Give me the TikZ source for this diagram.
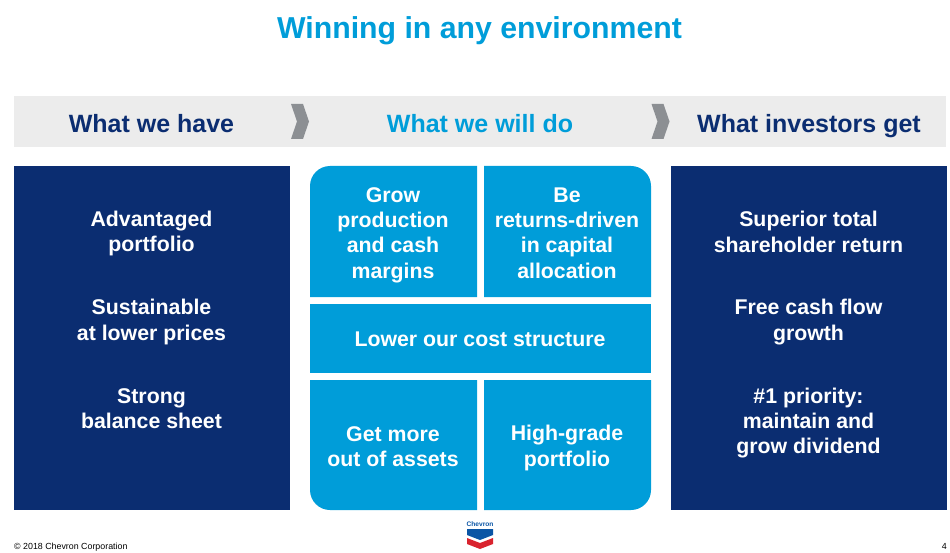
\documentclass[tikz,border=0pt]{standalone}
\usepackage{fontspec}
\setmainfont{Liberation Sans}
\definecolor{navy}{HTML}{0B2D71}
\definecolor{cyan}{HTML}{009DD9}
\definecolor{barg}{HTML}{ECECEC}
\definecolor{chev}{HTML}{8C8F93}
\definecolor{logoblue}{HTML}{0A55A5}
\definecolor{logored}{HTML}{D9232E}
\newcommand{\fs}[2]{\fontsize{#1}{#2}\selectfont\bfseries}
\tikzset{
 tile/.style={fill=cyan,draw=none},
 ttext/.style={text=white,align=center,font=\fs{21.3}{25.4}},
 head/.style={font=\fs{25}{25},anchor=base},
 chevmark/.style={fill=chev,draw=none},
}
\begin{document}
\begin{tikzpicture}[x=1pt,y=-1pt]
\useasboundingbox (0,0) rectangle (950,553);
\node[font=\fs{30.25}{30},text=cyan,anchor=base] (title) at (479.5,38.5) {Winning in any environment};
\fill[barg] (14,96) rectangle (946,147);
\fill[chevmark] (291,104) -- (303,104) -- (309,121.5) -- (303,139) -- (291,139) -- (297,121.5) -- cycle;
\fill[chevmark] (651.5,104) -- (663.5,104) -- (669.5,121.5) -- (663.5,139) -- (651.5,139) -- (657.5,121.5) -- cycle;
\node[head,text=navy] (h1) at (151.5,133) {What we have};
\node[head,text=cyan] (h2) at (480,133) {What we will do};
\node[head,text=navy] (h3) at (809,133) {What investors get};
\fill[navy] (14,166) rectangle (290,510);
\fill[navy] (671,166) rectangle (947,510);
\fill[tile] (310,297) [rounded corners=20pt] -- (310,166) [sharp corners] -- (477,166) -- (477,297) -- cycle;
\fill[tile] (484,297) -- (484,166) [rounded corners=20pt] -- (651,166) [sharp corners] -- (651,297) -- cycle;
\fill[tile] (310,304) rectangle (651,373);
\fill[tile] (477,380) -- (477,510) [rounded corners=20pt] -- (310,510) [sharp corners] -- (310,380) -- cycle;
\fill[tile] (484,380) -- (651,380) [rounded corners=20pt] -- (651,510) [sharp corners] -- (484,510) -- cycle;
\node[ttext] (l1) at (151.5,233.5) {Advantaged\\portfolio};
\node[ttext] (l2) at (151.5,322) {Sustainable\\at lower prices};
\node[ttext] (l3) at (151.5,408.5) {Strong\\balance sheet};
\node[ttext] (m1) at (393,235) {Grow\\production\\and cash\\margins};
\node[ttext] (m2) at (567,233) {Be\\returns-driven\\in capital\\allocation};
\node[ttext] (m3) at (480,339) {Lower our cost structure};
\node[ttext] (m4) at (393,446.5) {Get more\\out of assets};
\node[ttext] (m5) at (567,448) {High-grade\\portfolio};
\node[ttext] (r1) at (808.5,232) {Superior total\\shareholder return};
\node[ttext] (r2) at (808.5,322) {Free cash flow\\growth};
\node[ttext] (r3) at (808.5,423) {\#1 priority:\\maintain and\\grow dividend};
\node[text=black,font=\fontsize{8.85}{9}\selectfont,anchor=base west,inner sep=0pt] (copy) at (14,549) {© 2018 Chevron Corporation};
\node[text=black,font=\fontsize{8.85}{9}\selectfont,anchor=base east,inner sep=0pt] (pg) at (947,549) {4};
\node[text=logoblue,font=\fontsize{6.6}{7}\selectfont\bfseries,anchor=base,inner sep=0pt] (logo) at (480,526.5) {Chevron};
\fill[logoblue] (467,529) -- (493,529) -- (493,535) -- (480,540) -- (467,535) -- cycle;
\fill[logored] (467,538) -- (480,543) -- (493,538) -- (493,544) -- (480,549) -- (467,544) -- cycle;
\end{tikzpicture}
\end{document}
